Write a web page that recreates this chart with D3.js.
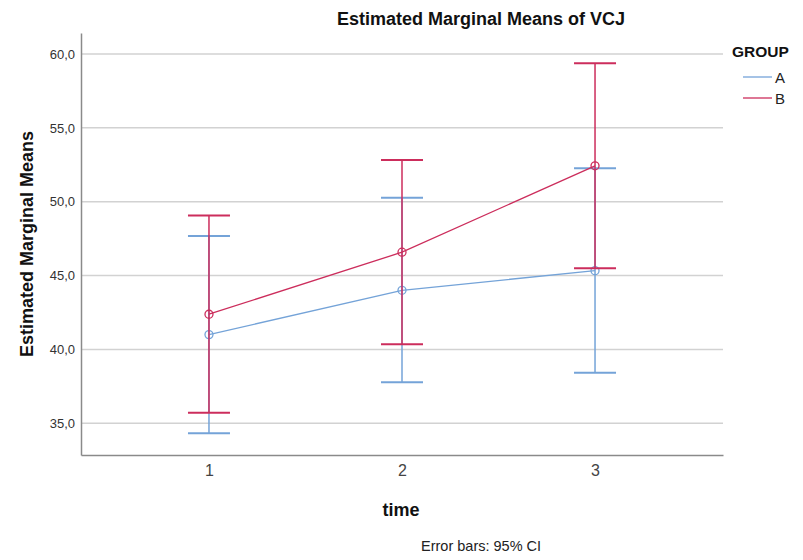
<!DOCTYPE html>
<html><head><meta charset="utf-8">
<script src="https://cdn.jsdelivr.net/npm/d3@7"></script>
<style>body{margin:0;background:#fff}svg{display:block;font-family:Arial,"Liberation Sans",sans-serif}</style>
</head><body><svg id="c" width="803" height="560"></svg>
<script>
const times = ["1","2","3"];
const groups = ["A","B"];
const meanA = [41.00, 44.00, 45.33];
const lowA  = [34.32, 37.77, 38.42];
const highA = [47.68, 50.26, 52.27];
const meanB = [42.38, 46.58, 52.43];
const lowB  = [35.71, 40.35, 45.49];
const highB = [49.06, 52.83, 59.38];
const yTicks = [35, 40, 45, 50, 55, 60];
const colors = {A:"#74a3d8", B:"#cc2d5c"};

const svg = d3.select("#c");
const L = 81, R = 723, T = 33, B = 455;
const x = d3.scalePoint().domain(times).range([L, R]).padding(0.663);
const y = d3.scaleLinear().domain([32.85, 61.42]).range([B, T]);
const fmt = v => d3.format(".1f")(v).replace(".", ",");

// grid
svg.append("g").selectAll("line").data(yTicks).join("line")
  .attr("x1", L).attr("x2", R).attr("y1", d => y(d)).attr("y2", d => y(d))
  .attr("stroke", "#d2d2d2").attr("stroke-width", 1.5);

// y axis
const ya = svg.append("g").attr("transform", `translate(${L},0)`)
  .call(d3.axisLeft(y).tickValues(yTicks).tickFormat(fmt).tickSize(0).tickPadding(6));
ya.select(".domain").attr("stroke", "#8a8a8a").attr("stroke-width", 1.5);
ya.selectAll("text").attr("font-size", 13).attr("fill", "#333").attr("font-family", "Arial, Liberation Sans, sans-serif");

// x axis
const xa = svg.append("g").attr("transform", `translate(0,${B})`)
  .call(d3.axisBottom(x).tickSize(0).tickPadding(10));
xa.select(".domain").attr("stroke", "#8a8a8a").attr("stroke-width", 1.5);
xa.selectAll("text").attr("font-size", 16).attr("fill", "#444").attr("font-family", "Arial, Liberation Sans, sans-serif");

const series = [
  {g:"A", mean:meanA, low:lowA, high:highA},
  {g:"B", mean:meanB, low:lowB, high:highB}
];
const capW = 21;
series.forEach(s => {
  const c = colors[s.g];
  const gg = svg.append("g");
  const pts = times.map((t,i) => ({t, m:s.mean[i], lo:s.low[i], hi:s.high[i]}));
  gg.selectAll("line.v").data(pts).join("line")
    .attr("x1", d => x(d.t)).attr("x2", d => x(d.t))
    .attr("y1", d => y(d.lo)).attr("y2", d => y(d.hi))
    .attr("stroke", c).attr("stroke-width", 1.5);
  ["lo","hi"].forEach(k => {
    gg.selectAll("line.c"+k).data(pts).join("line")
      .attr("x1", d => x(d.t)-capW).attr("x2", d => x(d.t)+capW)
      .attr("y1", d => y(d[k])).attr("y2", d => y(d[k]))
      .attr("stroke", c).attr("stroke-width", 2);
  });
  gg.append("path").datum(pts)
    .attr("d", d3.line().x(d => x(d.t)).y(d => y(d.m)))
    .attr("fill", "none").attr("stroke", c).attr("stroke-width", 1.3);
  gg.selectAll("circle").data(pts).join("circle")
    .attr("cx", d => x(d.t)).attr("cy", d => y(d.m)).attr("r", 4)
    .attr("fill", "none").attr("stroke", c).attr("stroke-width", 1.3);
});

// titles
svg.append("text").attr("x", 481).attr("y", 25).attr("text-anchor", "middle")
  .attr("font-size", 18).attr("font-weight", "bold").attr("fill", "#111")
  .text("Estimated Marginal Means of VCJ");
svg.append("text").attr("transform", `translate(33,244) rotate(-90)`)
  .attr("text-anchor", "middle").attr("font-size", 18).attr("font-weight", "bold").attr("fill", "#111")
  .text("Estimated Marginal Means");
svg.append("text").attr("x", 401).attr("y", 516).attr("text-anchor", "middle")
  .attr("font-size", 18).attr("font-weight", "bold").attr("fill", "#111").text("time");
svg.append("text").attr("x", 421).attr("y", 551)
  .attr("font-size", 14.5).attr("fill", "#222").text("Error bars: 95% CI");

// legend
svg.append("text").attr("x", 732).attr("y", 57).attr("font-size", 15.5).attr("font-weight", "bold")
  .attr("fill", "#111").text("GROUP");
const lg = svg.append("g").selectAll("g").data(groups).join("g")
  .attr("transform", (d,i) => `translate(743,${77 + i*21})`);
lg.append("line").attr("x1", 0).attr("x2", 29).attr("stroke", d => colors[d]).attr("stroke-width", 1.3);
lg.append("text").attr("x", 32).attr("y", 6).attr("font-size", 15).attr("fill", "#222").text(d => d);
</script></body></html>
